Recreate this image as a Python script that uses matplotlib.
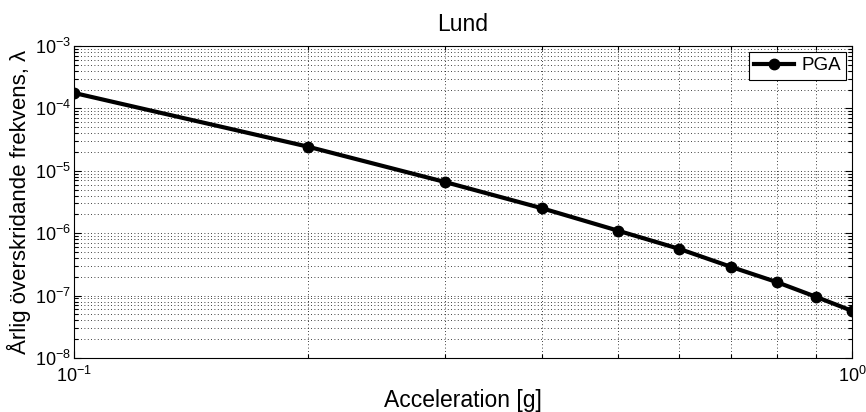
import matplotlib
matplotlib.use("Agg")
import matplotlib.pyplot as plt
from matplotlib.ticker import LogLocator, NullFormatter

plt.rcParams['font.family'] = ['Liberation Sans', 'DejaVu Sans']
plt.rcParams['mathtext.default'] = 'regular'

acceleration = [0.1, 0.2, 0.3, 0.4, 0.5, 0.6, 0.7, 0.8, 0.9, 1.0]
pga_freq = [1.77e-4, 2.43e-5, 6.6e-6, 2.5e-6, 1.10e-6, 5.6e-7, 2.87e-7, 1.65e-7, 9.5e-8, 5.7e-8]

fig = plt.figure(figsize=(8.66, 4.12), dpi=100)
ax = fig.add_axes([74/866, 54/412, (852-74)/866, (358-46)/412])

ax.loglog(acceleration, pga_freq, '-o', color='black', linewidth=3,
          markersize=7.5, label='PGA')

ax.set_xlim(0.1, 1.0)
ax.set_ylim(1e-8, 1e-3)

ax.xaxis.set_major_locator(LogLocator(base=10, numticks=10))
ax.yaxis.set_major_locator(LogLocator(base=10, numticks=10))
ax.xaxis.set_minor_locator(LogLocator(base=10, subs=range(2, 10), numticks=20))
ax.yaxis.set_minor_locator(LogLocator(base=10, subs=range(2, 10), numticks=20))
ax.xaxis.set_minor_formatter(NullFormatter())
ax.yaxis.set_minor_formatter(NullFormatter())

ax.grid(True, which='both', linestyle=(0, (1, 3)), color='black', linewidth=0.6)
ax.tick_params(which='both', direction='in', top=True, right=True,
               labelsize=13, width=0.8)
ax.tick_params(which='major', length=5)
ax.tick_params(which='minor', length=3)
ax.tick_params(axis='x', pad=6)
ax.tick_params(axis='y', pad=2)
for s in ax.spines.values():
    s.set_linewidth(0.8)

ax.set_title('Lund', fontsize=16.5, pad=11)
ax.set_xlabel('Acceleration [g]', fontsize=16.5, labelpad=2)
ax.set_ylabel('Årlig överskridande frekvens, λ', fontsize=16, labelpad=3)

leg = ax.legend(loc='upper right', fontsize=13.5, fancybox=False,
                edgecolor='black', framealpha=1, borderpad=0.3,
                handlelength=2.1, handletextpad=0.4, borderaxespad=0.3)
leg.get_frame().set_linewidth(0.8)

fig.savefig('out.png', dpi=100)
